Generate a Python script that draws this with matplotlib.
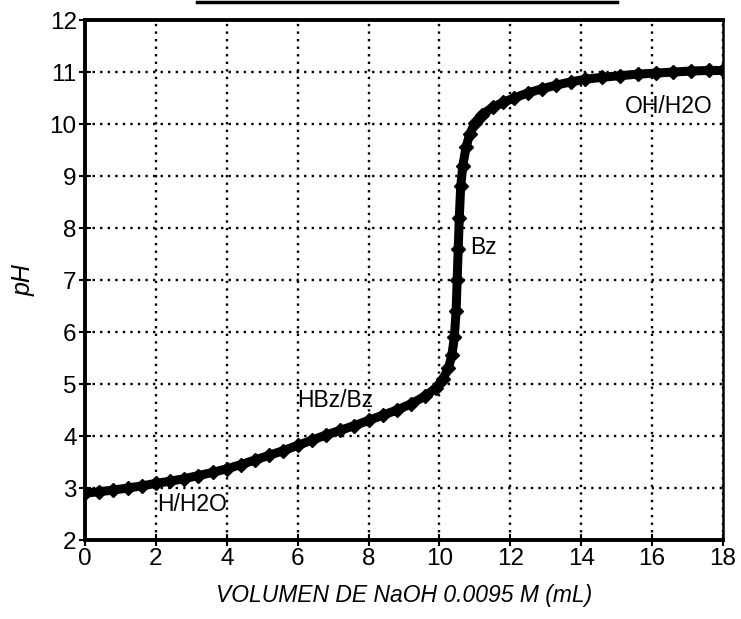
import matplotlib
matplotlib.use("Agg")
import matplotlib.pyplot as plt
from matplotlib.lines import Line2D

plt.rcParams['font.family'] = ['Liberation Sans', 'DejaVu Sans']

volume_ml = [0, 0.4, 0.8, 1.2, 1.6, 2.0, 2.4, 2.8, 3.2, 3.6, 4.0, 4.4, 4.8, 5.2, 5.6,
             6.0, 6.4, 6.8, 7.2, 7.6, 8.0, 8.4, 8.8, 9.2, 9.6, 9.9, 10.1, 10.25, 10.35,
             10.42, 10.47, 10.5, 10.53, 10.56, 10.6, 10.66, 10.75, 10.85, 11.0, 11.2,
             11.5, 11.8, 12.1, 12.5, 12.9, 13.3, 13.7, 14.1, 14.6, 15.1, 15.6, 16.1,
             16.6, 17.1, 17.6, 18.0]
ph_values = [2.9, 2.93, 2.96, 3.0, 3.04, 3.09, 3.13, 3.18, 3.24, 3.3, 3.37, 3.45, 3.54,
             3.63, 3.72, 3.82, 3.92, 4.02, 4.11, 4.2, 4.3, 4.4, 4.5, 4.62, 4.77, 4.92,
             5.1, 5.3, 5.55, 5.9, 6.4, 7.0, 7.6, 8.2, 8.8, 9.2, 9.55, 9.8, 10.02, 10.18,
             10.32, 10.42, 10.5, 10.6, 10.68, 10.75, 10.81, 10.86, 10.9, 10.93, 10.96,
             10.98, 11.0, 11.02, 11.03, 11.03]

x_ticks = [0, 2, 4, 6, 8, 10, 12, 14, 16, 18]
y_ticks = [2, 3, 4, 5, 6, 7, 8, 9, 10, 11, 12]

annotations = [("OH/H2O", 16.48, 10.34), ("Bz", 11.23, 7.62),
               ("HBz/Bz", 7.05, 4.68), ("H/H2O", 3.02, 2.69)]

x_label = "VOLUMEN DE NaOH 0.0095 M (mL)"
y_label = "pH"

fig = plt.figure(figsize=(7.41, 6.19), dpi=100)
ax = fig.add_axes([0.1147, 0.1276, 0.861, 0.840])

ax.plot(volume_ml, ph_values, color='black', lw=6.5, marker='D', ms=7,
        markerfacecolor='black', markeredgecolor='black', solid_capstyle='round',
        zorder=3)

ax.set_xlim(0, 18)
ax.set_ylim(2, 12)
ax.set_xticks(x_ticks)
ax.set_yticks(y_ticks)
ax.set_xticklabels([str(t) for t in x_ticks])
ax.set_yticklabels([str(t) for t in y_ticks])
ax.tick_params(axis='both', direction='inout', length=8, width=1.5,
               labelsize=17.5, pad=2, colors='black')

ax.grid(True, color='black', linestyle=(0, (1, 2.2)), linewidth=1.7)
ax.set_axisbelow(True)

for side in ['left', 'bottom', 'top']:
    ax.spines[side].set_linewidth(2.8)
ax.spines['right'].set_linewidth(1.8)

for txt, xx, yy in annotations:
    ax.text(xx, yy, txt, fontsize=16.5, ha='center', va='center', color='black',
            zorder=4)

ax.set_xlabel(x_label, fontsize=16.5, style='italic', labelpad=10)
ax.set_ylabel(y_label, fontsize=18, style='italic', labelpad=10)

# top decorative bar (cropped title underline)
fig.add_artist(Line2D([197 / 741, 617 / 741], [1 - 1.5 / 619, 1 - 1.5 / 619],
                      color='black', lw=2.5, transform=fig.transFigure))

fig.savefig("out.png", dpi=100)
